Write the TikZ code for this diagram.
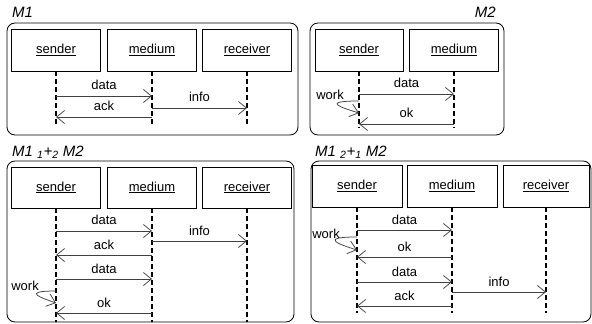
\documentclass[tikz,border=0pt]{standalone}
\usepackage{fontspec}
\setmainfont{Liberation Sans}
\usetikzlibrary{shapes,arrows.meta}

\tikzset{
  frame/.style={draw, rounded corners=8pt, line width=0.8pt},
  lifebox/.style={shape=rectangle, draw, line width=0.6pt, minimum width=89pt, minimum height=42pt, font=\fontsize{13}{15}\selectfont},
  lifeline/.style={line width=1.8pt, dash pattern=on 5pt off 3pt},
  message/.style={draw=black!75, line width=0.75pt, -{Straight Barb[length=8pt,width=13pt]}},
  msglabel/.style={above, inner sep=5.5pt, font=\fontsize{13}{15}\selectfont},
  title/.style={anchor=base west, inner sep=0pt, font=\fontsize{15}{17}\selectfont\itshape},
}

\begin{document}
\begin{tikzpicture}[x=1pt, y=-1pt]
\useasboundingbox (0,0) rectangle (592,324);

% M1
\node[name=tA, title] at (12,17) {M1};
\draw[frame] (7,23) rectangle (298,135);
\node[name=sA, lifebox] at (56,50) {\underline{sender}};
\node[name=mA, lifebox] at (152,50) {\underline{medium}};
\node[name=rA, lifebox] at (247,50) {\underline{receiver}};
\draw[lifeline] (sA.south) -- (sA |- 0,126);
\draw[lifeline] (mA.south) -- (mA |- 0,126);
\draw[lifeline] (rA.south) -- (rA |- 0,126);
\draw[message] (sA |- 0,96) -- node[msglabel] {data} (mA |- 0,96);
\draw[message] (mA |- 0,108) -- node[msglabel] {info} (rA |- 0,108);
\draw[message] (mA |- 0,117) -- node[msglabel] {ack} (sA |- 0,117);

% M2
\node[name=tB, title, anchor=base east] at (496,17) {M2};
\draw[frame] (310,23) rectangle (504,135);
\node[name=sB, lifebox, minimum width=88pt] at (359,50) {\underline{sender}};
\node[name=mB, lifebox] at (454,50) {\underline{medium}};
\draw[lifeline] (sB.south) -- (sB |- 0,128);
\draw[lifeline] (mB.south) -- (mB |- 0,128);
\draw[message] (sB |- 0,94) -- node[msglabel] {data} (mB |- 0,94);
\draw[message] (sB |- 0,101) .. controls +(-40,0) and +(-16,-5) .. (sB |- 0,113);
\node[name=wB, anchor=east, inner sep=0pt, font=\fontsize{13}{15}\selectfont] at (344,95) {work};
\draw[message] (mB |- 0,124) -- node[msglabel] {ok} (sB |- 0,124);

% M1 1+2 M2
\node[name=tC, title] at (12,156) {M1 \textsubscript{1}+\textsubscript{2} M2};
\draw[frame] (7,161) rectangle (294,322);
\node[name=sC, lifebox, minimum height=41pt] at (56,187.5) {\underline{sender}};
\node[name=mC, lifebox, minimum height=41pt] at (152,187.5) {\underline{medium}};
\node[name=rC, lifebox, minimum height=41pt] at (247,187.5) {\underline{receiver}};
\draw[lifeline] (sC.south) -- (sC |- 0,322);
\draw[lifeline] (mC.south) -- (mC |- 0,322);
\draw[lifeline] (rC.south) -- (rC |- 0,322);
\draw[message] (sC |- 0,231) -- node[msglabel] {data} (mC |- 0,231);
\draw[message] (mC |- 0,241) -- node[msglabel] {info} (rC |- 0,241);
\draw[message] (mC |- 0,255) -- node[msglabel] {ack} (sC |- 0,255);
\draw[message] (sC |- 0,279) -- node[msglabel] {data} (mC |- 0,279);
\draw[message] (sC |- 0,291) .. controls +(-36,0) and +(-14,-5) .. (sC |- 0,303);
\node[name=wC, anchor=east, inner sep=0pt, font=\fontsize{13}{15}\selectfont] at (39,286) {work};
\draw[message] (mC |- 0,313) -- node[msglabel] {ok} (sC |- 0,313);

% M1 2+1 M2
\node[name=tD, title] at (315,156) {M1 \textsubscript{2}+\textsubscript{1} M2};
\draw[frame] (311,161) rectangle (591,322);
\node[name=sD, lifebox, minimum width=90pt] at (357,186) {\underline{sender}};
\node[name=mD, lifebox, minimum width=90pt] at (452,186) {\underline{medium}};
\node[name=rD, lifebox, minimum width=86pt] at (546,186) {\underline{receiver}};
\draw[lifeline] (sD.south) -- (sD |- 0,313);
\draw[lifeline] (mD.south) -- (mD |- 0,313);
\draw[lifeline] (rD.south) -- (rD |- 0,313);
\draw[message] (sD |- 0,230) -- node[msglabel] {data} (mD |- 0,230);
\draw[message] (sD |- 0,237) .. controls +(-40,0) and +(-16,-5) .. (sD |- 0,250);
\node[name=wD, anchor=east, inner sep=0pt, font=\fontsize{13}{15}\selectfont] at (340,234) {work};
\draw[message] (mD |- 0,257) -- node[msglabel] {ok} (sD |- 0,257);
\draw[message] (sD |- 0,282) -- node[msglabel] {data} (mD |- 0,282);
\draw[message] (mD |- 0,292) -- node[msglabel] {info} (rD |- 0,292);
\draw[message] (mD |- 0,306) -- node[msglabel] {ack} (sD |- 0,306);

\end{tikzpicture}
\end{document}
